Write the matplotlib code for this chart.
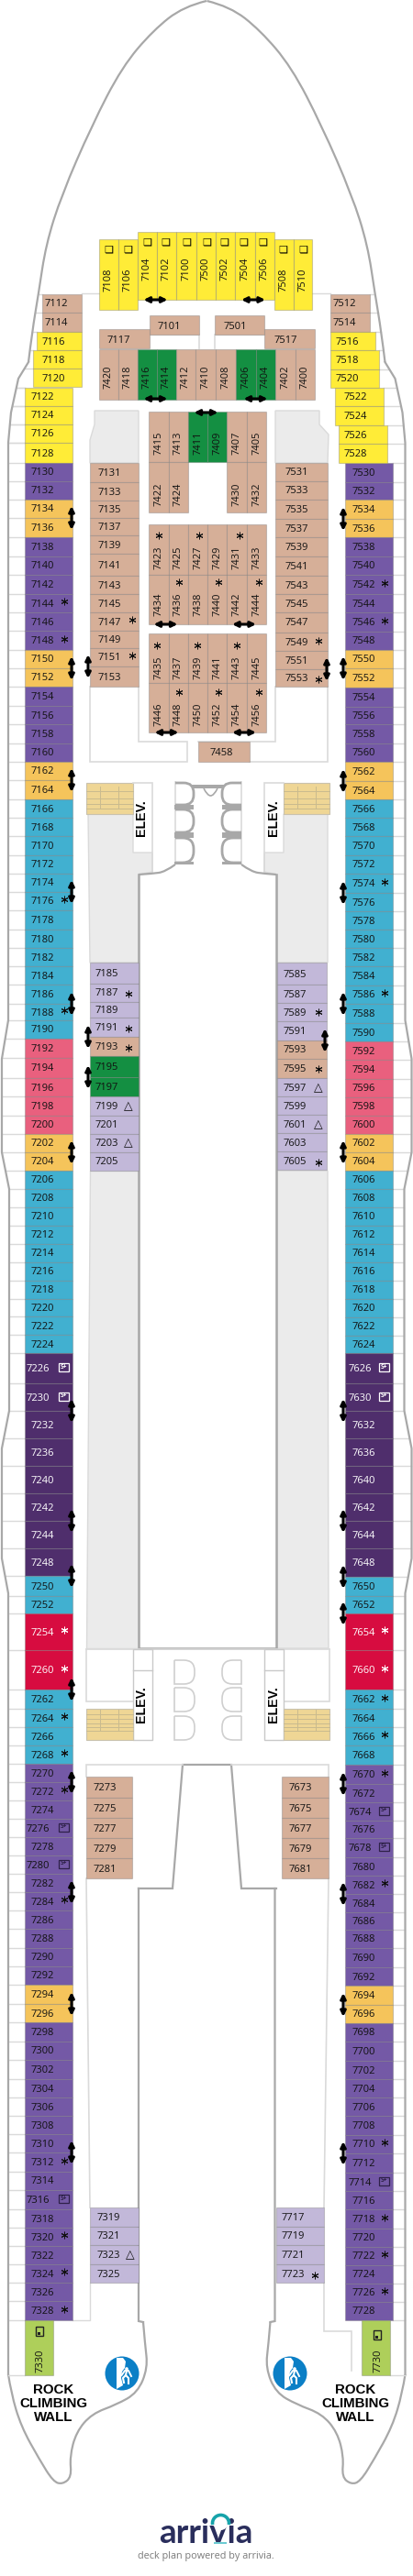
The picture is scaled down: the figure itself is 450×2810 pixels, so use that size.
#!/usr/bin/env python3
"""Deck 7 plan drawn in image pixel coordinates (y grows downwards)."""

import matplotlib
matplotlib.use("Agg")
import matplotlib.pyplot as plt
import numpy as np
from matplotlib.patches import Arc, Circle, PathPatch, Polygon, Rectangle
from matplotlib.path import Path

plt.rcParams["font.family"] = ["Open Sans", "DejaVu Sans"]

CLASS_COLOURS = {
    "yellow": "#FFEC37", "tan": "#D6AF98", "green": "#148F42", "purple": "#7459A6",
    "gold": "#F5C45B", "blue": "#41B0D0", "pink": "#E9607E", "red": "#D70C40",
    "dark": "#4F2E6C", "lav": "#C2B8D9", "lime": "#AECF5A",
}
LIGHT_TEXT = {"red", "dark"}
WALL = "#A8A8A8"
THIN = "#DADADA"
GREY_ROOM = "#EBEBEB"
STAIR = "#EFD695"

# side corridors, port
PORT_CABINS = [
    7122, 7124, 7126, 7128, 7130, 7132, 7134, 7136, 7138, 7140, 7142, 7144, 7146, 7148,
    7150, 7152, 7154, 7156, 7158, 7160, 7162, 7164, 7166, 7168, 7170, 7172, 7174, 7176,
    7178, 7180, 7182, 7184, 7186, 7188, 7190, 7192, 7194, 7196, 7198, 7200, 7202, 7204,
    7206, 7208, 7210, 7212, 7214, 7216, 7218, 7220, 7222, 7224, 7226, 7230, 7232, 7236,
    7240, 7242, 7244, 7248, 7250, 7252, 7254, 7260, 7262, 7264, 7266, 7268, 7270, 7272,
    7274, 7276, 7278, 7280, 7282, 7284, 7286, 7288, 7290, 7292, 7294, 7296, 7298, 7300,
    7302, 7304, 7306, 7308, 7310, 7312, 7314, 7316, 7318, 7320, 7322, 7324, 7326, 7328,
]
PORT_EDGES = [
    423, 443, 463, 483, 505, 525, 545, 565, 586, 607, 627, 648, 668, 688,
    709, 729, 749, 770, 790, 811, 831, 851, 872, 892, 912, 933, 953, 973,
    993, 1014, 1034, 1054, 1074, 1095, 1113, 1133, 1154, 1176, 1196, 1217, 1237, 1257,
    1277, 1297, 1317, 1337, 1357, 1377, 1397, 1417, 1436, 1456, 1476, 1509, 1539, 1569,
    1599, 1629, 1659, 1689, 1719, 1741, 1760, 1800, 1843, 1864, 1884, 1904, 1924, 1944,
    1964, 1984, 2004, 2024, 2044, 2064, 2084, 2104, 2125, 2145, 2165, 2186, 2206, 2227,
    2247, 2268, 2288, 2308, 2328, 2348, 2369, 2389, 2410, 2430, 2450, 2470, 2490, 2510, 2531,
]
PORT_RUNS = [("yellow", 4), ("purple", 2), ("gold", 2), ("purple", 6), ("gold", 2), ("purple", 4),
             ("gold", 2), ("blue", 13), ("pink", 5), ("gold", 2), ("blue", 10), ("dark", 8),
             ("blue", 2), ("red", 2), ("blue", 4), ("purple", 12), ("gold", 2), ("purple", 16)]
PORT_STARS = [7144, 7148, 7176, 7188, 7254, 7260, 7264, 7268, 7272, 7284, 7312, 7320, 7324, 7328]
PORT_PLUS = [7226, 7230, 7276, 7280, 7316]
PORT_LINKS = [7136, 7152, 7164, 7176, 7188, 7204, 7232, 7244, 7250, 7262, 7272, 7284, 7296, 7312]

# side corridors, starboard
STBD_CABINS = [
    7530, 7532, 7534, 7536, 7538, 7540, 7542, 7544, 7546, 7548, 7550, 7552, 7554, 7556,
    7558, 7560, 7562, 7564, 7566, 7568, 7570, 7572, 7574, 7576, 7578, 7580, 7582, 7584,
    7586, 7588, 7590, 7592, 7594, 7596, 7598, 7600, 7602, 7604, 7606, 7608, 7610, 7612,
    7614, 7616, 7618, 7620, 7622, 7624, 7626, 7630, 7632, 7636, 7640, 7642, 7644, 7648,
    7650, 7652, 7654, 7660, 7662, 7664, 7666, 7668, 7670, 7672, 7674, 7676, 7678, 7680,
    7682, 7684, 7686, 7688, 7690, 7692, 7694, 7696, 7698, 7700, 7702, 7704, 7706, 7708,
    7710, 7712, 7714, 7716, 7718, 7720, 7722, 7724, 7726, 7728,
]
STBD_EDGES = [
    505, 526, 545, 566, 586, 607, 627, 648, 668, 689, 709, 729, 750, 771,
    790, 811, 831, 852, 872, 892, 912, 933, 953, 974, 994, 1014, 1034, 1054,
    1075, 1095, 1116, 1136, 1156, 1177, 1197, 1217, 1237, 1257, 1277, 1297, 1317, 1337,
    1357, 1377, 1397, 1417, 1437, 1457, 1476, 1509, 1539, 1569, 1599, 1629, 1659, 1689,
    1720, 1741, 1760, 1800, 1843, 1864, 1884, 1904, 1925, 1946, 1966, 1986, 2005, 2026,
    2046, 2066, 2086, 2105, 2125, 2146, 2166, 2187, 2207, 2227, 2248, 2268, 2288, 2308,
    2329, 2349, 2370, 2390, 2410, 2431, 2451, 2471, 2491, 2511, 2531,
]
STBD_RUNS = [("purple", 2), ("gold", 2), ("purple", 6), ("gold", 2), ("purple", 4), ("gold", 2),
             ("blue", 13), ("pink", 5), ("gold", 2), ("blue", 10), ("dark", 8), ("blue", 2),
             ("red", 2), ("blue", 4), ("purple", 12), ("gold", 2), ("purple", 16)]
STBD_STARS = [7542, 7546, 7574, 7586, 7654, 7660, 7662, 7666, 7670, 7682, 7710, 7718, 7722, 7726]
STBD_PLUS = [7626, 7630, 7674, 7678, 7714]
STBD_LINKS = [7536, 7552, 7564, 7576, 7588, 7604, 7632, 7644, 7650, 7654, 7672, 7684, 7696, 7712]

# forward cabins that stick out from the side columns: label, x0, x1, y0, y1, class, label x
FWD_SIDE = [
    (7112, 46, 89, 321, 341, "tan", 61), (7114, 46, 89, 341, 362, "tan", 61),
    (7116, 40, 89, 362, 382, "yellow", 58), (7118, 36, 89, 382, 402, "yellow", 58),
    (7120, 36, 89, 402, 422, "yellow", 58),
    (7512, 360, 403, 321, 341, "tan", 375), (7514, 360, 403, 341, 362, "tan", 375),
    (7516, 360, 409, 362, 382, "yellow", 378), (7518, 360, 413, 382, 403, "yellow", 378),
    (7520, 360, 413, 403, 423, "yellow", 378),
    (7522, 365, 418, 423, 443, "yellow", 387), (7524, 365, 418, 443, 464, "yellow", 387),
    (7526, 369, 422, 464, 484, "yellow", 387), (7528, 369, 422, 484, 505, "yellow", 387),
]

# bow cabins, upright labels
BOW_CABINS = [7108, 7106, 7104, 7102, 7100, 7500, 7502, 7504, 7506, 7508, 7510]
BOW_EDGES = [108, 129, 150, 171, 192, 213.5, 235, 256, 277.5, 298.5, 319.5, 340]
BOW_TOPS = [261, 261, 253, 253, 253, 253, 253, 253, 253, 261, 261]
BOW_BOTTOMS = [338, 338, 327, 327, 327, 327, 327, 327, 327, 338, 338]
BOW_LABEL_Y = [305, 305, 293, 293, 293, 293, 293, 293, 293, 305, 305]
BOW_ICON_X = [118, 139, 160, 180, 203, 225, 244, 265, 286, 308, 330]

ROW_7400 = [7420, 7418, 7416, 7414, 7412, 7410, 7408, 7406, 7404, 7402, 7400]
ROW_7400_EDGES = [108, 129, 150, 171, 192, 213, 235, 257, 279, 300, 322, 343]
ROW_7400_CLASS = ["tan", "tan", "green", "green", "tan", "tan", "tan", "green", "green", "tan", "tan"]

# inner block columns
BLOCK_X = [162, 183.5, 204.5, 226, 247, 268.5, 290]
BLOCK_A = [7415, 7413, 7411, 7409, 7407, 7405]
BLOCK_A_CLASS = ["tan", "tan", "green", "green", "tan", "tan"]
BLOCK_A2 = [7422, 7424, None, None, 7430, 7432]
BLOCK_B1 = [7423, 7425, 7427, 7429, 7431, 7433]
BLOCK_B2 = [7434, 7436, 7438, 7440, 7442, 7444]
BLOCK_C1 = [7435, 7437, 7439, 7441, 7443, 7445]
BLOCK_C2 = [7446, 7448, 7450, 7452, 7454, 7456]
BLOCK_STARS = [(173, 584), (217, 584), (261, 584), (195, 635), (238, 635), (282, 635),
               (171, 704), (215, 704), (258, 704), (195, 755), (238, 755), (282, 755)]

INNER_PORT_A = [7131, 7133, 7135, 7137, 7139, 7141, 7143, 7145, 7147, 7149, 7151, 7153]
INNER_PORT_A_EDGES = [505, 526, 546, 565, 584, 604, 628, 648, 668, 688, 707, 727, 749]
INNER_STBD_A = [7531, 7533, 7535, 7537, 7539, 7541, 7543, 7545, 7547, 7549, 7551, 7553]
INNER_STBD_A_EDGES = [505, 525, 545, 566, 586, 607, 628, 648, 668, 690, 710, 730, 749]

INNER_PORT_B = [7185, 7187, 7189, 7191, 7193, 7195, 7197, 7199, 7201, 7203, 7205]
INNER_PORT_B_EDGES = [1050, 1073, 1093, 1110, 1131, 1152, 1175, 1196, 1217, 1237, 1257, 1277]
INNER_PORT_B_CLASS = ["lav"] * 4 + ["tan", "green", "green"] + ["lav"] * 4
INNER_STBD_B = [7585, 7587, 7589, 7591, 7593, 7595, 7597, 7599, 7601, 7603, 7605]
INNER_STBD_B_EDGES = [1050, 1074, 1094, 1114, 1135, 1155, 1176, 1196, 1216, 1236, 1256, 1276]
INNER_STBD_B_CLASS = ["lav"] * 4 + ["tan", "tan"] + ["lav"] * 5

AFT_PORT = [7273, 7275, 7277, 7279, 7281]
AFT_STBD = [7673, 7675, 7677, 7679, 7681]
AFT_EDGES = [1938, 1961, 1983, 2005, 2027, 2049]

STERN_PORT = [7319, 7321, 7323, 7325]
STERN_STBD = [7717, 7719, 7721, 7723]
STERN_EDGES = [2408, 2429, 2449, 2470, 2490]

# hull, port side, from the bow tip aft
HULL_BOW = [(225, 1), (200, 7), (167, 33), (133, 73), (100, 137), (67, 213), (50, 267), (42, 320),
            (35, 362), (31, 395)]
HULL_SHOULDER = [(31, 395), (20, 413), (12, 450), (9, 483), (9, 1113), (2, 1155), (2, 1257),
                 (10, 1297), (10, 1539), (2, 1580), (2, 1700), (9, 1738), (9, 2590)]
HULL_STERN = [(9, 2590), (12, 2610), (23, 2647), (43, 2683), (58, 2707), (68, 2710), (78, 2702),
              (76, 2680), (83, 2653), (100, 2633), (127, 2623), (150, 2610), (161, 2583),
              (158, 2557), (156, 2533)]

fig = plt.figure(figsize=(4.5, 28.1), dpi=100)
ax = fig.add_axes([0, 0, 1, 1])
ax.set_xlim(0, 450)
ax.set_ylim(2810, 0)
ax.axis("off")


def class_list(runs):
    return [name for name, count in runs for _ in range(count)]


def label(x, y, text, colour="#111111", size=8.0, rotation=0, **kw):
    ax.text(x, y, str(text), color=colour, fontsize=size, rotation=rotation,
            ha="center", va="center", zorder=6, **kw)


def cell(x0, x1, y0, y1, cls):
    face = CLASS_COLOURS[cls]
    ax.add_patch(Rectangle((x0, y0), x1 - x0, y1 - y0, facecolor=face,
                           edgecolor=(0.45, 0.45, 0.45, 0.35), lw=0.8, zorder=3))


def text_colour(cls):
    return "white" if cls in LIGHT_TEXT else "#111111"


def stack(labels, edges, classes, x0, x1, label_x):
    for name, y0, y1, cls in zip(labels, edges[:-1], edges[1:], classes):
        cell(x0, x1, y0, y1, cls)
        label(label_x, (y0 + y1) / 2 + 1, name, text_colour(cls))


def star(x, y, colour="#111111"):
    ax.plot([x], [y], marker=(6, 2, 0), ms=5.5, mew=0.7, color=colour, zorder=6)


def triangle(x, y):
    label(x, y, "\u25b3", "#111111", size=9, family="DejaVu Sans", fontweight="bold")


def link(x0, y0, x1, y1):
    ax.annotate("", xy=(x1, y1), xytext=(x0, y0), zorder=7,
                arrowprops=dict(arrowstyle="<|-|>", color="black", lw=2.2,
                                mutation_scale=8.5, shrinkA=0, shrinkB=0))


def vlink(x, y):
    link(x, y - 13, x, y + 13)


def hlink(x, y):
    link(x - 13, y, x + 13, y)


def plus_badge(x, y, colour):
    ax.add_patch(Rectangle((x - 5.5, y - 4.5), 11, 9, facecolor="none", edgecolor=colour,
                           lw=0.9, zorder=6))
    label(x, y, "S+", colour, size=4.8, fontweight="bold")


def smooth(points):
    """Quadratic spline through the midpoints of a polyline."""
    pts = np.asarray(points, dtype=float)
    verts = [pts[0]]
    codes = [Path.MOVETO]
    for i in range(1, len(pts) - 1):
        end = pts[i + 1] if i == len(pts) - 2 else (pts[i] + pts[i + 1]) / 2
        verts += [pts[i], end]
        codes += [Path.CURVE3, Path.CURVE3]
    return Path(verts, codes)


def mirrored(points, total=450.5):
    return [(total - x, y) for x, y in points]


def wall(points, colour=WALL, lw=1.5, z=2):
    xs, ys = zip(*points)
    ax.plot(xs, ys, color=colour, lw=lw, solid_joinstyle="miter", zorder=z)


def curve(points, colour=WALL, lw=1.5, z=2):
    ax.add_patch(PathPatch(smooth(points), facecolor="none", edgecolor=colour, lw=lw, zorder=z))


def room(points, colour=GREY_ROOM, edge=THIN):
    ax.add_patch(Polygon(points, closed=True, facecolor=colour, edgecolor=edge, lw=1, zorder=1))


def d_shape(x_flat, x_round, y0, y1, colour, lw, closed=False):
    r = 0.45 * (y1 - y0)
    s = np.sign(x_round - x_flat)
    verts = [(x_flat, y0), (x_round - s * r, y0), (x_round, y0), (x_round, y0 + r),
             (x_round, y1 - r), (x_round, y1), (x_round - s * r, y1), (x_flat, y1)]
    codes = [Path.MOVETO, Path.LINETO, Path.CURVE3, Path.CURVE3,
             Path.LINETO, Path.CURVE3, Path.CURVE3, Path.LINETO]
    if closed:
        verts.append(verts[0])
        codes.append(Path.LINETO)
    ax.add_patch(PathPatch(Path(verts, codes), facecolor="none", edgecolor=colour, lw=lw, zorder=2))


def stairs(x0, x1, y0, y1, treads):
    ax.add_patch(Rectangle((x0, y0), x1 - x0, y1 - y0, facecolor=STAIR, edgecolor="#C9C2AE",
                           lw=0.8, zorder=2))
    for y in treads:
        ax.plot([x0, x1], [y, y], color="#C9BB8E", lw=0.7, zorder=2)
    for x in (x0 + 15, x0 + 35):
        ax.plot([x, x], [treads[0] - 5, treads[-1]], color="#C9BB8E", lw=0.7, zorder=2)


def elev(x, y):
    label(x, y, "ELEV.", "black", size=10.2, rotation=90, fontweight="bold",
          family="Liberation Sans")


def rock_icon(cx, cy):
    ax.add_patch(Circle((cx, cy), 18.5, facecolor="#0B7FC6", edgecolor="none", zorder=3))
    rock = [(-6, -17), (1, -17), (4, -13), (3, -6), (0, -2), (-1, 5), (1, 13), (-6, 17)]
    ax.add_patch(Polygon([(cx + x, cy + y) for x, y in rock], facecolor="white", edgecolor="none", zorder=4))
    ax.add_patch(Circle((cx + 5, cy - 5), 1.8, facecolor="white", edgecolor="none", zorder=4))
    body = [(-0.5, 2), (3, -3), (7, -3), (10, 3)]
    ax.plot([cx + x for x, _ in body], [cy + y for _, y in body], color="white", lw=1.4, zorder=4)
    ax.plot([cx + 5, cx + 4, cx + 1, cx + 2], [cy - 3, cy + 2, cy + 5, cy + 10], color="white", lw=1.5, zorder=4)
    ax.plot([cx + 4, cx + 7, cx + 7], [cy + 2, cy + 5, cy + 11], color="white", lw=1.5, zorder=4)


def side_column(cabins, edges, runs, stars, plus, links, x0, x1, text_x, plus_text_x, star_x, plus_x, link_x):
    for name, y0, y1, cls in zip(cabins, edges[:-1], edges[1:], class_list(runs)):
        mid = (y0 + y1) / 2
        cell(x0, x1, y0, y1, cls)
        label(plus_text_x if name in plus else text_x, mid + 1, name, text_colour(cls))
        if name in stars:
            star(star_x, mid - 2, text_colour(cls))
        if name in plus:
            plus_badge(plus_x, mid - 1, "white" if cls == "dark" else "#2E2149")
        if name in links:
            vlink(link_x, y0)


# hull
for side in (lambda p: p, mirrored):
    curve(side(HULL_BOW), lw=1.6)
    wall(side(HULL_SHOULDER), lw=1.6)
    curve(side(HULL_STERN), lw=1.6)
    wall(side([(156, 2533), (151, 2532), (151, 2060)]), lw=1.6)

hull_y = [p[1] for p in HULL_BOW + HULL_SHOULDER[1:]]
hull_x = [p[0] for p in HULL_BOW + HULL_SHOULDER[1:]]

# balcony dividers
for y in PORT_EDGES:
    ax.plot([np.interp(y, hull_y, hull_x), 27], [y, y], color=THIN, lw=1, zorder=1)
for y in STBD_EDGES:
    ax.plot([450 - np.interp(y, hull_y, hull_x), 428], [y, y], color=THIN, lw=1, zorder=1)
for y, x_in in [(321, 46), (341, 46), (362, 40), (382, 36), (402, 36), (423, 27), (443, 27), (463, 27), (483, 27)]:
    ax.plot([np.interp(y, hull_y, hull_x), x_in], [y, y], color=THIN, lw=1, zorder=1)
for y, x_in in [(321, 403), (341, 403), (362, 409), (382, 413), (403, 413), (423, 418), (443, 418), (464, 422), (484, 422)]:
    ax.plot([450 - np.interp(y, hull_y, hull_x), x_in], [y, y], color=THIN, lw=1, zorder=1)
wall([(9, 2591), (27, 2591)], THIN, 1)
wall([(425, 2591), (441, 2591)], THIN, 1)
wall([(79, 2531), (98, 2531), (98, 2490)], THIN, 1)
wall([(89, 320), (108, 320)], THIN, 1)
wall([(340, 320), (360, 320)], THIN, 1)
wall([(163, 365), (217, 365), (217, 380)], THIN, 1.2)
wall([(288, 365), (234, 365), (234, 380)], THIN, 1.2)

# forward grey rooms
room([(103, 448), (151, 448), (151, 505), (98, 505), (98, 480), (103, 463)])
room([(300, 448), (348, 448), (348, 463), (358, 474), (357, 505), (300, 505)])

# corridors around the inner blocks
wall([(98, 749), (98, 831), (204, 831), (204, 809), (151, 809), (151, 749)], THIN, 1.2)
wall([(300, 749), (300, 809), (216, 809)], THIN, 1.2)
wall([(272, 831), (357, 831), (357, 749)], THIN, 1.2)

# forward lift lobby
stairs(94, 145, 854, 888, [863, 871, 877, 882])
stairs(309, 359, 854, 888, [863, 871, 877, 882])
room([(96, 888), (145, 888), (145, 930), (166, 930), (166, 951), (151, 954), (151, 1050), (98, 1050)])
room([(309, 888), (357, 888), (357, 1050), (302, 1050), (302, 954), (288, 951), (288, 930), (309, 930)])
wall([(145, 854), (166, 854), (166, 951)], THIN, 1.2)
wall([(309, 854), (288, 854), (288, 951)], THIN, 1.2)
elev(154, 892)
elev(298, 892)
wall([(191, 853), (191, 942)], THIN, 1.2)
wall([(263, 853), (263, 942)], THIN, 1.2)
for y0, y1 in [(854, 878), (883, 908), (914, 941)]:
    d_shape(191, 211, y0, y1, WALL, 2)
    d_shape(263, 242, y0, y1, WALL, 2)
for y0, y1 in [(878, 883), (908, 914), (940, 943)]:
    ax.add_patch(Rectangle((190, y0), 21, y1 - y0, facecolor=WALL, edgecolor="none", zorder=2))
    ax.add_patch(Rectangle((242, y0), 21, y1 - y0, facecolor=WALL, edgecolor="none", zorder=2))
ax.add_patch(Rectangle((209, 856), 35, 3.5, facecolor=WALL, edgecolor="none", zorder=2))
curve([(222, 860), (226, 868), (233, 868), (237, 860)], WALL, 1.2)
curve([(151, 954), (166, 953), (180, 951), (191, 943)], WALL, 1.6)
curve([(301, 954), (288, 953), (274, 951), (263, 943)], WALL, 1.6)

# atrium
wall([(151, 954), (151, 1798), (301, 1798), (301, 954)], WALL, 1.8)
room([(98, 1277), (151, 1277), (151, 1798), (94, 1798)])
room([(302, 1277), (357, 1277), (358, 1798), (302, 1798)])

# aft lift lobby
wall([(94, 1799), (94, 1856), (145, 1856)], THIN, 1.2)
wall([(359, 1799), (359, 1856), (309, 1856)], THIN, 1.2)
wall([(94, 1799), (359, 1799)], THIN, 1.2)
for x0, x1 in [(145, 166), (288, 309)]:
    ax.add_patch(Rectangle((x0, 1799), x1 - x0, 99, facecolor="white", edgecolor="#C9C9C9", lw=1, zorder=2))
    wall([(x0, 1822), (x1, 1822)], "#C9C9C9", 1, 3)
stairs(94, 145, 1864, 1898, [1870, 1875, 1880, 1884, 1888])
stairs(309, 359, 1864, 1898, [1870, 1875, 1880, 1884, 1888])
elev(154, 1859)
elev(298, 1859)
for y0, y1 in [(1811, 1837), (1841, 1867), (1872, 1898)]:
    d_shape(190, 212, y0, y1, "#CFCFCF", 1.2, closed=True)
    d_shape(263, 242, y0, y1, "#CFCFCF", 1.2, closed=True)

# aft atrium and corridor walls
wall([(151, 2060), (188, 2060), (199, 1925), (252, 1925), (263, 2060), (301, 2060)], WALL, 1.6)
wall([(94, 1938), (94, 1925), (199, 1925)], THIN, 1.2)
wall([(358, 1938), (358, 1925), (252, 1925)], THIN, 1.2)
wall([(94, 2049), (98, 2408)], THIN, 1.2)
wall([(358, 2049), (353, 2408)], THIN, 1.2)
wall([(353, 2490), (353, 2543), (383, 2543), (383, 2586)], THIN, 1.2)

# side columns
side_column(PORT_CABINS, PORT_EDGES, PORT_RUNS, PORT_STARS, PORT_PLUS, PORT_LINKS,
            27, 79, 46, 41, 70, 69, 78)
side_column(STBD_CABINS, STBD_EDGES, STBD_RUNS, STBD_STARS, STBD_PLUS, STBD_LINKS,
            375.5, 428, 396, 392, 419, 418, 374)
for name, x0, x1, y0, y1, cls, lx in FWD_SIDE:
    cell(x0, x1, y0, y1, cls)
    label(lx, (y0 + y1) / 2 + 1, name)

# bow
for i, name in enumerate(BOW_CABINS):
    x0, x1 = BOW_EDGES[i], BOW_EDGES[i + 1]
    cell(x0, x1, BOW_TOPS[i], BOW_BOTTOMS[i], "yellow")
    label((x0 + x1) / 2, BOW_LABEL_Y[i], name, rotation=90)
    label(BOW_ICON_X[i], BOW_TOPS[i] + 11, "\u274f", "black", size=8, family="DejaVu Sans", fontweight="bold")
hlink(169.5, 327)
hlink(276, 327)

for name, x0, x1, y0, y1, lx in [(7101, 163, 217, 344, 365, 184), (7501, 234, 288, 344, 365, 256),
                                 (7117, 108, 163, 359, 380, 129), (7517, 288, 343, 359, 380, 311)]:
    cell(x0, x1, y0, y1, "tan")
    label(lx, (y0 + y1) / 2 + 2, name)

for i, name in enumerate(ROW_7400):
    x0, x1 = ROW_7400_EDGES[i], ROW_7400_EDGES[i + 1]
    cell(x0, x1, 380.5, 435.5, ROW_7400_CLASS[i])
    label((x0 + x1) / 2, 411, name, rotation=90)
hlink(169.5, 435)
hlink(278.5, 435)
hlink(224.5, 450)

# inner blocks
for i in range(6):
    x0, x1 = BLOCK_X[i], BLOCK_X[i + 1]
    mid = (x0 + x1) / 2 + 0.5
    cell(x0, x1, 449, 504, BLOCK_A_CLASS[i])
    label(mid, 483, BLOCK_A[i], rotation=90)
    if BLOCK_A2[i] is not None:
        cell(x0, x1, 504, 559, "tan")
        label(mid, 539, BLOCK_A2[i], rotation=90)
    cell(x0, x1, 572, 627, "tan")
    label(mid, 608, BLOCK_B1[i], rotation=90)
    cell(x0, x1, 627, 681, "tan")
    label(mid, 659, BLOCK_B2[i], rotation=90)
    cell(x0, x1, 691, 745, "tan")
    label(mid, 728, BLOCK_C1[i], rotation=90)
    cell(x0, x1, 745, 799, "tan")
    label(mid, 779, BLOCK_C2[i], rotation=90)
for x, y in BLOCK_STARS:
    star(x, y)
hlink(180.5, 681)
hlink(266, 681)
hlink(181.5, 799)
hlink(266, 799)

cell(216, 272, 809, 831, "tan")
label(241, 821, 7458)

stack(INNER_PORT_A, INNER_PORT_A_EDGES, ["tan"] * 12, 98, 151, 119)
stack(INNER_STBD_A, INNER_STBD_A_EDGES, ["tan"] * 12, 300, 357, 323)
stack(INNER_PORT_B, INNER_PORT_B_EDGES, INNER_PORT_B_CLASS, 98, 151, 116)
stack(INNER_STBD_B, INNER_STBD_B_EDGES, INNER_STBD_B_CLASS, 302, 356, 321)
stack(AFT_PORT, AFT_EDGES, ["tan"] * 5, 94, 144, 114)
stack(AFT_STBD, AFT_EDGES, ["tan"] * 5, 307, 358, 327)
stack(STERN_PORT, STERN_EDGES, ["lav"] * 4, 98, 151, 118)
stack(STERN_STBD, STERN_EDGES, ["lav"] * 4, 301, 353, 319)

for x, y in [(144, 676), (144, 715), (347, 699), (347, 741), (140, 1084), (140, 1122), (140, 1143),
             (347, 1104), (347, 1166), (347, 1268), (343, 2482)]:
    star(x, y)
for x, y in [(140, 1207), (140, 1247), (347, 1187), (347, 1227), (142, 2460)]:
    triangle(x, y)
vlink(96, 727)
vlink(356, 730)
vlink(96, 1131)
vlink(354, 1135)
vlink(96, 1175)

# rock climbing wall
cell(27, 58, 2531, 2591, "lime")
cell(394, 425, 2531, 2591, "lime")
label(44, 2575, 7330, rotation=90)
label(412, 2575, 7730, rotation=90)
for x, y in [(43, 2543), (411, 2547)]:
    ax.add_patch(Rectangle((x - 4, y - 5), 8, 10, facecolor="none", edgecolor="#222222", lw=1, zorder=6))
    ax.add_patch(Rectangle((x - 2, y + 1), 3, 2.5, facecolor="#222222", edgecolor="none", zorder=6))
rock_icon(133, 2589)
rock_icon(316, 2589)
for cx in (58, 387):
    for y, word in [(2607, "ROCK"), (2622, "CLIMBING"), (2637, "WALL")]:
        label(cx, y, word, "black", size=10.8, fontweight="bold", family="Liberation Sans")

# logo
ax.text(224.5, 2774, "arrivia", color="#2A2E5C", fontsize=26.5, fontweight="bold",
        family=["Lato", "DejaVu Sans"], ha="center", va="baseline", zorder=5)
ax.add_patch(Circle((240.5, 2752), 8, facecolor="white", edgecolor="none", zorder=6))
ax.add_patch(Arc((240.5, 2752.5), 18, 18, theta1=170, theta2=370, edgecolor="#16A3AA", lw=2.6, zorder=7))
ax.add_patch(Rectangle((233, 2773), 14, 1.5, facecolor="#6CCBD2", edgecolor="none", zorder=7))
label(224.5, 2789, "deck plan powered by arrivia.", "#7A7A7A", size=7.8)

fig.savefig("out.png", dpi=100, facecolor="white")
